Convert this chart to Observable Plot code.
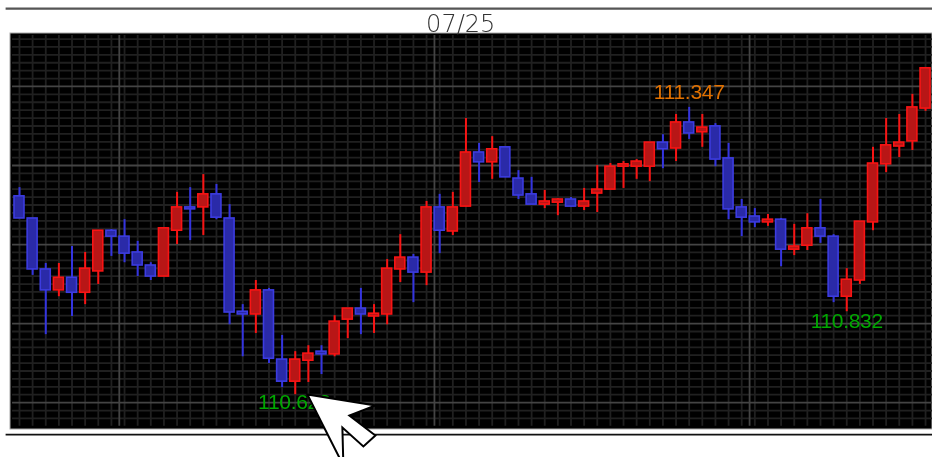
<!DOCTYPE html>
<html><head><meta charset="utf-8">
<script src="https://cdn.jsdelivr.net/npm/d3@7"></script>
<script src="https://cdn.jsdelivr.net/npm/@observablehq/plot@0.6"></script>
<style>html,body{margin:0;padding:0;background:#fff}svg{display:block;filter:blur(0.45px)}.lbl text{letter-spacing:-0.3px}</style>
</head><body><div id="chart"></div>
<script>
const opens = [111.122,111.066,110.937,110.884,110.916,110.878,110.932,111.035,111.020,110.980,110.947,110.919,111.035,111.094,111.094,111.127,111.066,110.830,110.823,110.884,110.709,110.653,110.706,110.729,110.722,110.810,110.838,110.818,110.823,110.937,110.967,110.929,111.094,111.033,111.096,111.233,111.208,111.246,111.167,111.127,111.101,111.106,111.114,111.096,111.129,111.139,111.197,111.197,111.197,111.258,111.243,111.309,111.284,111.299,111.218,111.094,111.071,111.056,111.063,110.987,110.997,111.041,111.020,110.868,110.909,111.056,111.203,111.248,111.261,111.344];
const highs = [111.144,111.066,110.952,110.952,110.995,110.980,111.035,111.038,111.063,111.008,110.954,111.041,111.132,111.144,111.177,111.152,111.101,110.848,110.909,110.889,110.770,110.729,110.744,110.744,110.820,110.838,110.889,110.848,110.962,111.025,110.975,111.109,111.127,111.132,111.319,111.256,111.273,111.246,111.187,111.170,111.137,111.116,111.119,111.142,111.200,111.205,111.210,111.215,111.258,111.278,111.329,111.347,111.329,111.306,111.256,111.114,111.091,111.076,111.066,111.051,111.078,111.114,111.025,110.939,111.058,111.246,111.319,111.329,111.380,111.446];
const lows = [111.066,110.922,110.772,110.868,110.818,110.848,110.899,110.970,110.954,110.919,110.909,110.919,111.000,111.010,111.023,111.063,110.797,110.716,110.775,110.699,110.638,110.620,110.651,110.671,110.716,110.762,110.772,110.775,110.797,110.904,110.853,110.896,110.977,111.023,111.096,111.157,111.165,111.170,111.114,111.101,111.091,111.073,111.096,111.086,111.081,111.139,111.142,111.165,111.159,111.192,111.210,111.266,111.246,111.197,111.063,111.020,111.043,111.046,110.944,110.972,110.985,111.003,110.853,110.830,110.899,111.035,111.182,111.220,111.238,111.337];
const closes = [111.066,110.937,110.884,110.916,110.878,110.939,111.035,111.020,110.977,110.947,110.919,111.041,111.094,111.089,111.127,111.068,110.828,110.823,110.884,110.711,110.653,110.709,110.724,110.722,110.805,110.838,110.823,110.825,110.939,110.967,110.929,111.094,111.035,111.094,111.233,111.208,111.241,111.170,111.124,111.101,111.109,111.114,111.096,111.109,111.139,111.197,111.203,111.210,111.258,111.241,111.309,111.281,111.296,111.215,111.089,111.068,111.056,111.063,110.987,110.995,111.041,111.020,110.868,110.911,111.058,111.205,111.251,111.258,111.347,111.446];
const majorPrices = [111.4,111.2,111.0,110.8,110.6];
const dayLines = [7.6,31.6,55.6];
const dateLabel = [{i:33.6,y:111.534,t:"07/25"}];
const highLabels = [{i:51,y:111.347,t:"111.347"}];
const lowLabels = [{i:63,y:110.832,t:"110.832"}];
const lowLabels2 = [{i:21,y:110.620,t:"110.623"}];
const cursorAt = [{i:22.0,y:110.618}];

const candles = opens.map((o,i)=>({i,o,h:highs[i],l:lows[i],c:closes[i],up:closes[i]>=o}));
const minorPrices = d3.range(0,50).map(d=>+(110.56+d*0.02).toFixed(2)).filter(p=>!majorPrices.includes(p) && p<111.53 && p>110.54);
const red=candles.filter(d=>d.up), blue=candles.filter(d=>!d.up);
const hw=0.38;
const cursor={draw(c){
  // arrow shape, tip at the symbol's origin
  c.moveTo(-1,-1);c.lineTo(67,10);c.lineTo(41,20);c.lineTo(67,40);c.lineTo(55,51);c.lineTo(34,32);c.lineTo(35,70);c.closePath();
}};
const font='"Liberation Sans",sans-serif';
const chart=Plot.plot({
  width:932,height:457,marginLeft:10,marginRight:0,marginTop:33,marginBottom:28,
  style:{background:"#fff",overflow:"hidden"},
  x:{domain:[-0.685,69.53],axis:null},
  y:{domain:[110.532,111.534],axis:null},
  marks:[
    Plot.ruleY([111.597],{x1:-1.02,x2:69.53,stroke:"#555",strokeWidth:2.4}),
    Plot.ruleY([110.519],{x1:-1.02,x2:69.53,stroke:"#111",strokeWidth:1.6}),
    Plot.rect([0],{x1:-0.685,x2:69.53,y1:110.532,y2:111.534,fill:"#000",stroke:"#aaa",strokeWidth:1}),
    Plot.ruleX(candles,{x:"i",y1:110.540,y2:111.529,stroke:"#202020",strokeWidth:1.8}),
    Plot.ruleY(minorPrices,{x1:-0.53,x2:69.53,stroke:"#202020",strokeWidth:1.8}),
    Plot.ruleX(dayLines,{y1:110.540,y2:111.529,stroke:"#444",strokeWidth:1.8}),
    Plot.ruleY(majorPrices,{x1:-0.53,x2:69.53,stroke:"#444",strokeWidth:1.8}),
    Plot.ruleX(blue,{x:"i",y1:"l",y2:"h",stroke:"#3434e0",strokeWidth:2}),
    Plot.ruleX(red,{x:"i",y1:"l",y2:"h",stroke:"#f81414",strokeWidth:2}),
    Plot.rect(blue,{x1:d=>d.i-hw,x2:d=>d.i+hw,y1:"o",y2:"c",fill:"#2a2aa8",stroke:"#3c3ce0",strokeWidth:1.6}),
    Plot.rect(red,{x1:d=>d.i-hw,x2:d=>d.i+hw,y1:"o",y2:"c",fill:"#b81616",stroke:"#f81414",strokeWidth:1.6}),
    Plot.text(dateLabel,{x:"i",y:"y",text:"t",dy:-9,fill:"#333",fontSize:24,fontFamily:"DejaVu Sans",fontWeight:200}),
    Plot.text(highLabels,{x:"i",y:"y",text:"t",dy:-15,fill:"#e07000",fontSize:21,fontFamily:font,className:"lbl"}),
    Plot.text(lowLabels,{x:"i",y:"y",text:"t",dy:10,dx:0,fill:"#00a800",fontSize:21,fontFamily:font,className:"lbl"}),
    Plot.text(lowLabels2,{x:"i",y:"y",text:"t",dy:8,dx:-1,fill:"#00a800",fontSize:21,fontFamily:font,className:"lbl"}),
    Plot.dot(cursorAt,{x:"i",y:"y",symbol:cursor,fill:"#fff",stroke:"#000",strokeWidth:2,r:5})
  ]
});
document.getElementById("chart").append(chart);
</script></body></html>
